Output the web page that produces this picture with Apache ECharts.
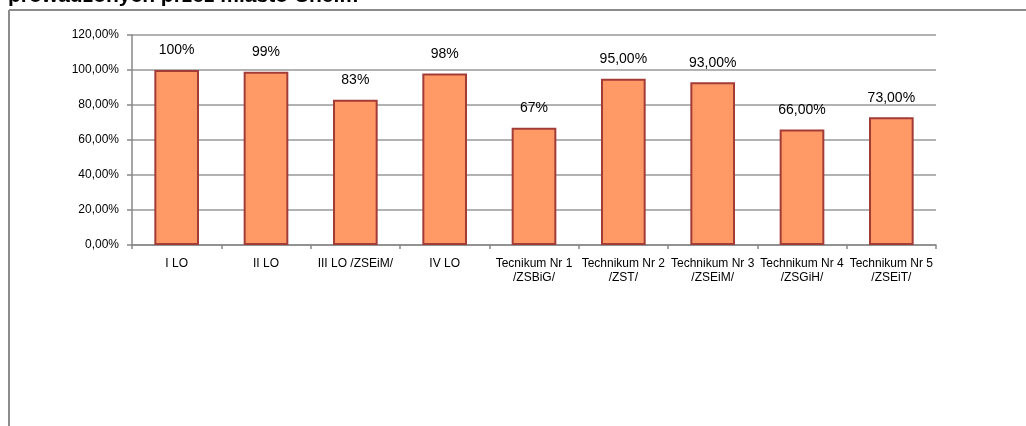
<!DOCTYPE html>
<html><head><meta charset="utf-8">
<script src="https://cdn.jsdelivr.net/npm/echarts@6/dist/echarts.min.js"></script>
<style>html,body{margin:0;padding:0;background:#fff}#c{width:1026px;height:426px}</style>
</head><body><div id="c"></div>
<script>
var titleText = 'prowadzonych przez miasto Chełm';
var categories = ['I LO', 'II LO', 'III LO /ZSEiM/', 'IV LO', 'Tecnikum Nr 1\n/ZSBiG/', 'Technikum Nr 2\n/ZST/', 'Technikum Nr 3\n/ZSEiM/', 'Technikum Nr 4\n/ZSGiH/', 'Technikum Nr 5\n/ZSEiT/'];
var values = [100, 99, 83, 98, 67, 95, 93, 66, 73];
var valueLabels = ['100%', '99%', '83%', '98%', '67%', '95,00%', '93,00%', '66,00%', '73,00%'];
var yTicks = {min: 0, max: 120, interval: 20};

var chart = echarts.init(document.getElementById('c'), null, {renderer: 'canvas'});
var font = 'Liberation Sans, Arial, sans-serif';
chart.setOption({
  animation: false,
  textStyle: {fontFamily: font},
  graphic: [
    {type: 'line', shape: {x1: 9, y1: 10, x2: 9, y2: 426}, style: {stroke: '#8c8c8c', lineWidth: 2}},
    {type: 'line', shape: {x1: 9, y1: 10, x2: 1026, y2: 10}, style: {stroke: '#8c8c8c', lineWidth: 2}},
    {type: 'text', left: 8, top: -14, style: {text: titleText, font: 'bold 21px Liberation Sans, Arial, sans-serif', fill: '#000'}}
  ],
  grid: {left: 132, right: 90, top: 35, bottom: 181, containLabel: false},
  xAxis: {
    type: 'category', data: categories,
    axisLine: {lineStyle: {color: '#888', width: 1.5}},
    axisTick: {show: true, length: 4, lineStyle: {color: '#888', width: 1.5}},
    axisLabel: {color: '#000', fontSize: 12, lineHeight: 14, interval: 0, margin: 12}
  },
  yAxis: {
    type: 'value', min: yTicks.min, max: yTicks.max, interval: yTicks.interval,
    axisLine: {show: true, lineStyle: {color: '#888', width: 1.5}},
    axisTick: {show: true, length: 5, lineStyle: {color: '#888', width: 1.5}},
    splitLine: {lineStyle: {color: '#999', width: 1.5}},
    axisLabel: {color: '#000', fontSize: 12, margin: 13, formatter: function (v) { return v.toFixed(2).replace('.', ',') + '%'; }}
  },
  series: [{
    type: 'bar', data: values, barWidth: '50%',
    itemStyle: {color: '#FF9966', borderColor: '#A33B36', borderWidth: 2},
    label: {show: true, position: 'top', distance: 12.5, color: '#000', fontSize: 14,
      formatter: function (p) { return valueLabels[p.dataIndex]; }}
  }]
});
</script></body></html>
